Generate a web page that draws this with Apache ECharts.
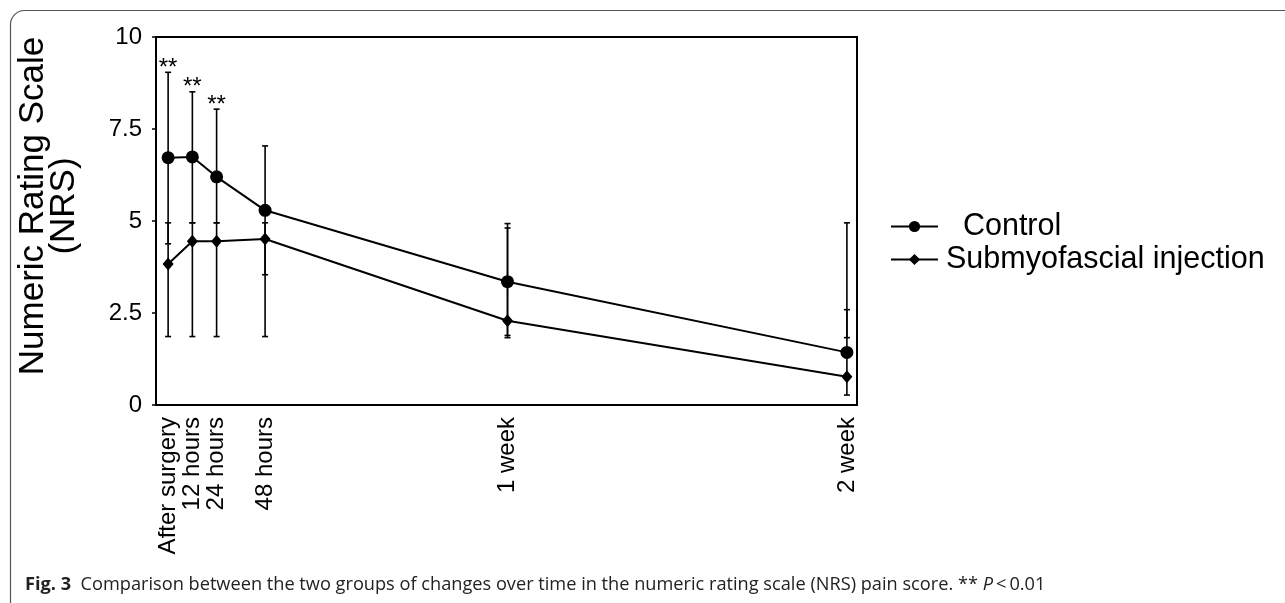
<!DOCTYPE html>
<html>
<head>
<meta charset="utf-8">
<script src="https://cdn.jsdelivr.net/npm/echarts@6/dist/echarts.min.js"></script>
<style>
  html, body { margin: 0; padding: 0; background: #fff; }
  #chart { width: 1285px; height: 603px; }
</style>
</head>
<body>
<div id="chart"></div>
<script>
// time points (hours after surgery) and their labels
const timeLabels = ['After surgery', '12 hours', '24 hours', '48 hours', '1 week', '2 week']
const hours = [0, 12, 24, 48, 168, 336]

// NRS values
const control = [6.72, 6.74, 6.2, 5.29, 3.35, 1.43]
const controlLow = [4.38, 4.95, 4.95, 3.54, 1.89, 0.27]
const controlHigh = [9.04, 8.51, 8.04, 7.04, 4.81, 2.59]
const submyo = [3.83, 4.45, 4.45, 4.51, 2.29, 0.77]
const submyoLow = [1.86, 1.86, 1.86, 1.86, 1.83, 1.83]
const submyoHigh = [4.95, 4.95, 4.95, 4.95, 4.93, 4.95]
const significance = ['**', '**', '**', '', '', '']

const yTicks = [0, 2.5, 5, 7.5, 10]

const chart = echarts.init(document.getElementById('chart'))

function errorBars(marks) {
  return function(params, api) {
    const x = api.value(0)
    const lo = api.coord([x, api.value(1)])
    const hi = api.coord([x, api.value(2)])
    const w = 3
    const style = { stroke: '#000', lineWidth: 1.6 }
    const children = [
      { type: 'line', shape: { x1: lo[0], y1: lo[1], x2: hi[0], y2: hi[1] }, style: style },
      { type: 'line', shape: { x1: hi[0] - w, y1: hi[1], x2: hi[0] + w, y2: hi[1] }, style: style },
      { type: 'line', shape: { x1: lo[0] - w, y1: lo[1], x2: lo[0] + w, y2: lo[1] }, style: style }
    ]
    const mark = marks ? marks[params.dataIndex] : ''
    if (mark) {
      children.push({
        type: 'text',
        x: hi[0],
        y: hi[1] + 8,
        style: {
          text: mark,
          fill: '#000',
          font: '24px Arial, "Liberation Sans", sans-serif',
          align: 'center',
          verticalAlign: 'bottom'
        }
      })
    }
    return { type: 'group', children: children }
  }
}

chart.setOption({
  backgroundColor: '#ffffff',
  animation: false,
  textStyle: { fontFamily: 'Arial, "Liberation Sans", sans-serif', color: '#000' },
  grid: {
    left: 156,
    right: 428,
    top: 37,
    bottom: 198,
    show: true,
    borderColor: '#000',
    borderWidth: 2
  },
  legend: {
    orient: 'vertical',
    left: 885,
    top: 206,
    itemWidth: 47,
    itemHeight: 14,
    itemGap: 2,
    data: ['Control', 'Submyofascial injection'],
    formatter: function(name) {
      return name === 'Control' ? '  Control' : name
    },
    textStyle: { fontSize: 30.5, color: '#000', padding: [0, 0, 0, 3] }
  },
  xAxis: {
    type: 'value',
    min: -6,
    max: 341,
    splitLine: { show: false },
    axisLine: { onZero: false, lineStyle: { color: '#000', width: 2 } },
    axisTick: { show: false },
    axisLabel: {
      customValues: hours,
      rotate: 90,
      fontSize: 24,
      color: '#000',
      margin: 12,
      formatter: function(v) {
        const i = hours.indexOf(v)
        return i >= 0 ? timeLabels[i] : ''
      }
    }
  },
  yAxis: {
    type: 'value',
    min: 0,
    max: 10,
    interval: 2.5,
    name: 'Numeric Rating Scale\n(NRS)',
    nameLocation: 'middle',
    nameGap: 76,
    nameTextStyle: { fontSize: 35, color: '#000', lineHeight: 31, padding: [0, 0, 0, 30] },
    splitLine: { show: false },
    axisLine: { show: true, onZero: false, lineStyle: { color: '#000', width: 2 } },
    axisTick: { show: true, length: 4, lineStyle: { color: '#000', width: 1.5 } },
    axisLabel: {
      fontSize: 24,
      color: '#000',
      margin: 14,
      formatter: function(v) {
        return yTicks.indexOf(v) >= 0 ? String(v) : ''
      }
    }
  },
  graphic: [
    {
      type: 'rect',
      shape: { x: 10.5, y: 10.5, width: 1300, height: 610, r: 14 },
      style: { fill: 'none', stroke: '#555', lineWidth: 1.2 },
      silent: true
    },
    {
      type: 'text',
      left: 25,
      top: 576,
      style: {
        text: '{b|Fig. 3}  Comparison between the two groups of changes over time in the numeric rating scale (NRS) pain score. ** {i|P}\u2009<\u20090.01',
        font: '18.2px "Open Sans", sans-serif',
        fill: '#222',
        rich: {
          b: { fontWeight: 'bold', fontSize: 18.2, fontFamily: '"Open Sans", sans-serif', fill: '#222' },
          i: { fontStyle: 'italic', fontSize: 18.2, fontFamily: '"Open Sans", sans-serif', fill: '#222' }
        }
      }
    }
  ],
  series: [
    {
      name: 'Control error',
      type: 'custom',
      renderItem: errorBars(significance),
      data: hours.map((h, i) => [h, controlLow[i], controlHigh[i]]),
      z: 1
    },
    {
      name: 'Submyofascial error',
      type: 'custom',
      renderItem: errorBars(null),
      data: hours.map((h, i) => [h, submyoLow[i], submyoHigh[i]]),
      z: 1
    },
    {
      name: 'Control',
      type: 'line',
      data: hours.map((h, i) => [h, control[i]]),
      symbol: 'circle',
      symbolSize: 13,
      itemStyle: { color: '#000' },
      lineStyle: { color: '#000', width: 2 },
      z: 3
    },
    {
      name: 'Submyofascial injection',
      type: 'line',
      data: hours.map((h, i) => [h, submyo[i]]),
      symbol: 'diamond',
      symbolSize: [11, 13],
      itemStyle: { color: '#000' },
      lineStyle: { color: '#000', width: 2 },
      z: 3
    }
  ]
})
</script>
</body>
</html>
